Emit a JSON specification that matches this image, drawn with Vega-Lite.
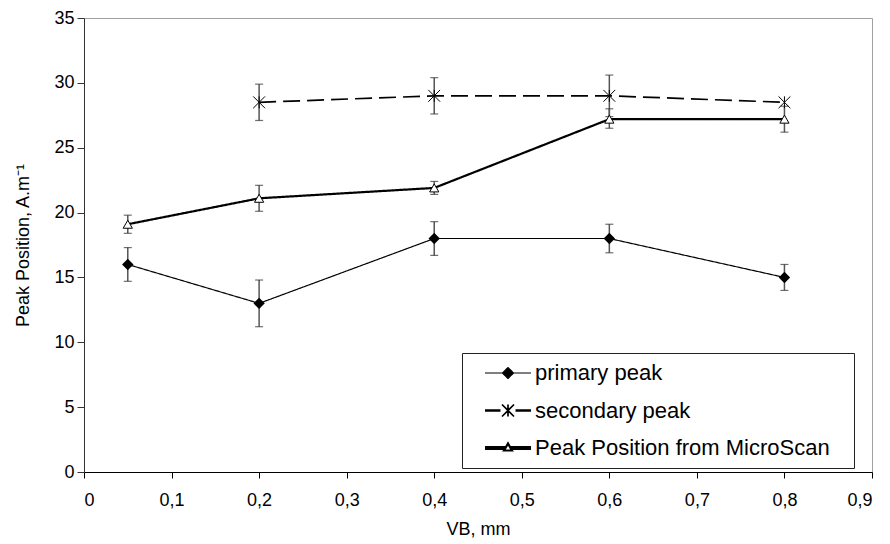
{
  "$schema": "https://vega.github.io/schema/vega-lite/v6.json",
  "width": 788,
  "height": 454,
  "autosize": {"type": "none"},
  "padding": {"left": 84, "top": 18, "right": 18, "bottom": 72},
  "background": "white",
  "config": {
    "view": {"stroke": "#a0a0a0", "strokeWidth": 1},
    "font": "Liberation Sans",
    "axis": {"grid": false}
  },
  "data": {
    "values": [
      {"series": "primary peak", "vb": 0.05, "peak": 16, "lo": 14.7, "hi": 17.3},
      {"series": "primary peak", "vb": 0.2, "peak": 13, "lo": 11.2, "hi": 14.8},
      {"series": "primary peak", "vb": 0.4, "peak": 18, "lo": 16.7, "hi": 19.3},
      {"series": "primary peak", "vb": 0.6, "peak": 18, "lo": 16.9, "hi": 19.1},
      {"series": "primary peak", "vb": 0.8, "peak": 15, "lo": 14.0, "hi": 16.0},
      {"series": "secondary peak", "vb": 0.2, "peak": 28.5, "lo": 27.1, "hi": 29.9},
      {"series": "secondary peak", "vb": 0.4, "peak": 29, "lo": 27.6, "hi": 30.4},
      {"series": "secondary peak", "vb": 0.6, "peak": 29, "lo": 27.4, "hi": 30.6},
      {"series": "secondary peak", "vb": 0.8, "peak": 28.5, "lo": null, "hi": null},
      {"series": "Peak Position from MicroScan", "vb": 0.05, "peak": 19.1, "lo": 18.4, "hi": 19.8},
      {"series": "Peak Position from MicroScan", "vb": 0.2, "peak": 21.1, "lo": 20.1, "hi": 22.1},
      {"series": "Peak Position from MicroScan", "vb": 0.4, "peak": 21.9, "lo": 21.4, "hi": 22.4},
      {"series": "Peak Position from MicroScan", "vb": 0.6, "peak": 27.2, "lo": 26.5, "hi": 28.0},
      {"series": "Peak Position from MicroScan", "vb": 0.8, "peak": 27.2, "lo": 26.2, "hi": 28.2}
    ]
  },
  "encoding": {
    "x": {
      "field": "vb", "type": "quantitative",
      "scale": {"domain": [0, 0.9], "nice": false, "zero": false},
      "axis": {
        "values": [0, 0.1, 0.2, 0.3, 0.4, 0.5, 0.6, 0.7, 0.8, 0.9],
        "labelExpr": "datum.value == 0 ? '0' : replace(format(datum.value, '.1f'), '.', ',')",
        "title": "VB, mm",
        "domainColor": "black", "tickColor": "black", "tickSize": 6,
        "labelFontSize": 18, "labelColor": "black", "labelPadding": 13,
        "titleFontSize": 18, "titleFontWeight": "normal", "titleColor": "black",
        "titleBaseline": "middle", "titleY": 57
      }
    },
    "y": {
      "field": "peak", "type": "quantitative",
      "scale": {"domain": [0, 35], "nice": false},
      "axis": {
        "values": [0, 5, 10, 15, 20, 25, 30, 35],
        "title": "Peak Position, A.m⁻¹",
        "domainColor": "#333333", "tickColor": "#333333", "tickSize": 7,
        "labelFontSize": 18, "labelColor": "black", "labelPadding": 3,
        "titleFontSize": 18, "titleFontWeight": "normal", "titleColor": "black",
        "titleBaseline": "middle", "titleX": -61
      }
    }
  },
  "layer": [
    {
      "mark": {"type": "line"},
      "encoding": {
        "stroke": {
          "field": "series", "type": "nominal",
          "scale": {"domain": ["primary peak", "secondary peak", "Peak Position from MicroScan"], "range": ["black", "black", "black"]},
          "legend": {
            "orient": "none", "legendX": 378, "legendY": 335,
            "title": "\u2800", "titleOrient": "right", "titleFontSize": 1, "titlePadding": 14, "titleColor": "white",
            "strokeColor": "#222222", "fillColor": "white",
            "padding": 9, "rowPadding": 15.5, "symbolOffset": 26, "labelOffset": 16,
            "symbolSize": 100, "labelFontSize": 22, "labelColor": "black",
            "labelLimit": 600,
            "encode": {
              "symbols": {
                "update": {
                  "shape": {"signal": "datum.value == 'primary peak' ? 'M-4.6,0H4.6M-1.1,0L0,-1.1L1.1,0L0,1.1Z' : datum.value == 'secondary peak' ? 'M-4.6,-0.1H-1.5M-4.6,0.1H-1.5M1.5,-0.1H4.6M1.5,0.1H4.6M-1.2,-1.2L1.2,1.2M-1.2,1.2L1.2,-1.2M0,-1.2V1.2' : 'M-4.6,-0.2H-0.5M-4.6,0H-0.5M-4.6,0.2H-0.5M0.5,-0.2H4.6M0.5,0H4.6M0.5,0.2H4.6M0,-0.9L0.8,0.5L-0.8,0.5Z'"},
                  "fill": {"signal": "datum.value == 'primary peak' ? 'black' : datum.value == 'secondary peak' ? 'transparent' : 'white'"},
                  "stroke": {"value": "black"},
                  "strokeWidth": {"value": 1},
                  "strokeDash": {"value": []},
                  "opacity": {"value": 1}
                }
              }
            }
          }
        },
        "strokeDash": {
          "field": "series", "type": "nominal",
          "scale": {"domain": ["primary peak", "secondary peak", "Peak Position from MicroScan"], "range": [[1, 0], [17, 7], [1, 0]]},
          "legend": null
        },
        "strokeWidth": {
          "field": "series", "type": "nominal",
          "scale": {"domain": ["primary peak", "secondary peak", "Peak Position from MicroScan"], "range": [1.2, 2.2, 3.2]},
          "legend": null
        }
      }
    },
    {
      "transform": [{"filter": "datum.lo != null"}],
      "mark": {"type": "rule", "color": "#555555", "strokeWidth": 1.5},
      "encoding": {
        "y": {"field": "lo", "type": "quantitative"},
        "y2": {"field": "hi"}
      }
    },
    {
      "transform": [{"filter": "datum.lo != null"}, {"fold": ["lo", "hi"], "as": ["end", "val"]}],
      "mark": {"type": "tick", "orient": "horizontal", "color": "#333333", "thickness": 1.2, "size": 8},
      "encoding": {
        "y": {"field": "val", "type": "quantitative"}
      }
    },
    {
      "transform": [{"filter": "datum.series == 'primary peak'"}],
      "mark": {"type": "point", "shape": "diamond", "filled": true, "color": "black", "size": 130, "opacity": 1}
    },
    {
      "transform": [{"filter": "datum.series == 'secondary peak'"}],
      "mark": {"type": "point", "shape": "M-1,-1L1,1M-1,1L1,-1M0,-1V1", "filled": false, "color": "black", "strokeWidth": 1, "size": 140, "opacity": 1}
    },
    {
      "transform": [{"filter": "datum.series == 'Peak Position from MicroScan'"}],
      "mark": {"type": "point", "shape": "triangle-up", "filled": true, "fill": "white", "stroke": "black", "strokeWidth": 1, "size": 85, "opacity": 1}
    }
  ]
}
